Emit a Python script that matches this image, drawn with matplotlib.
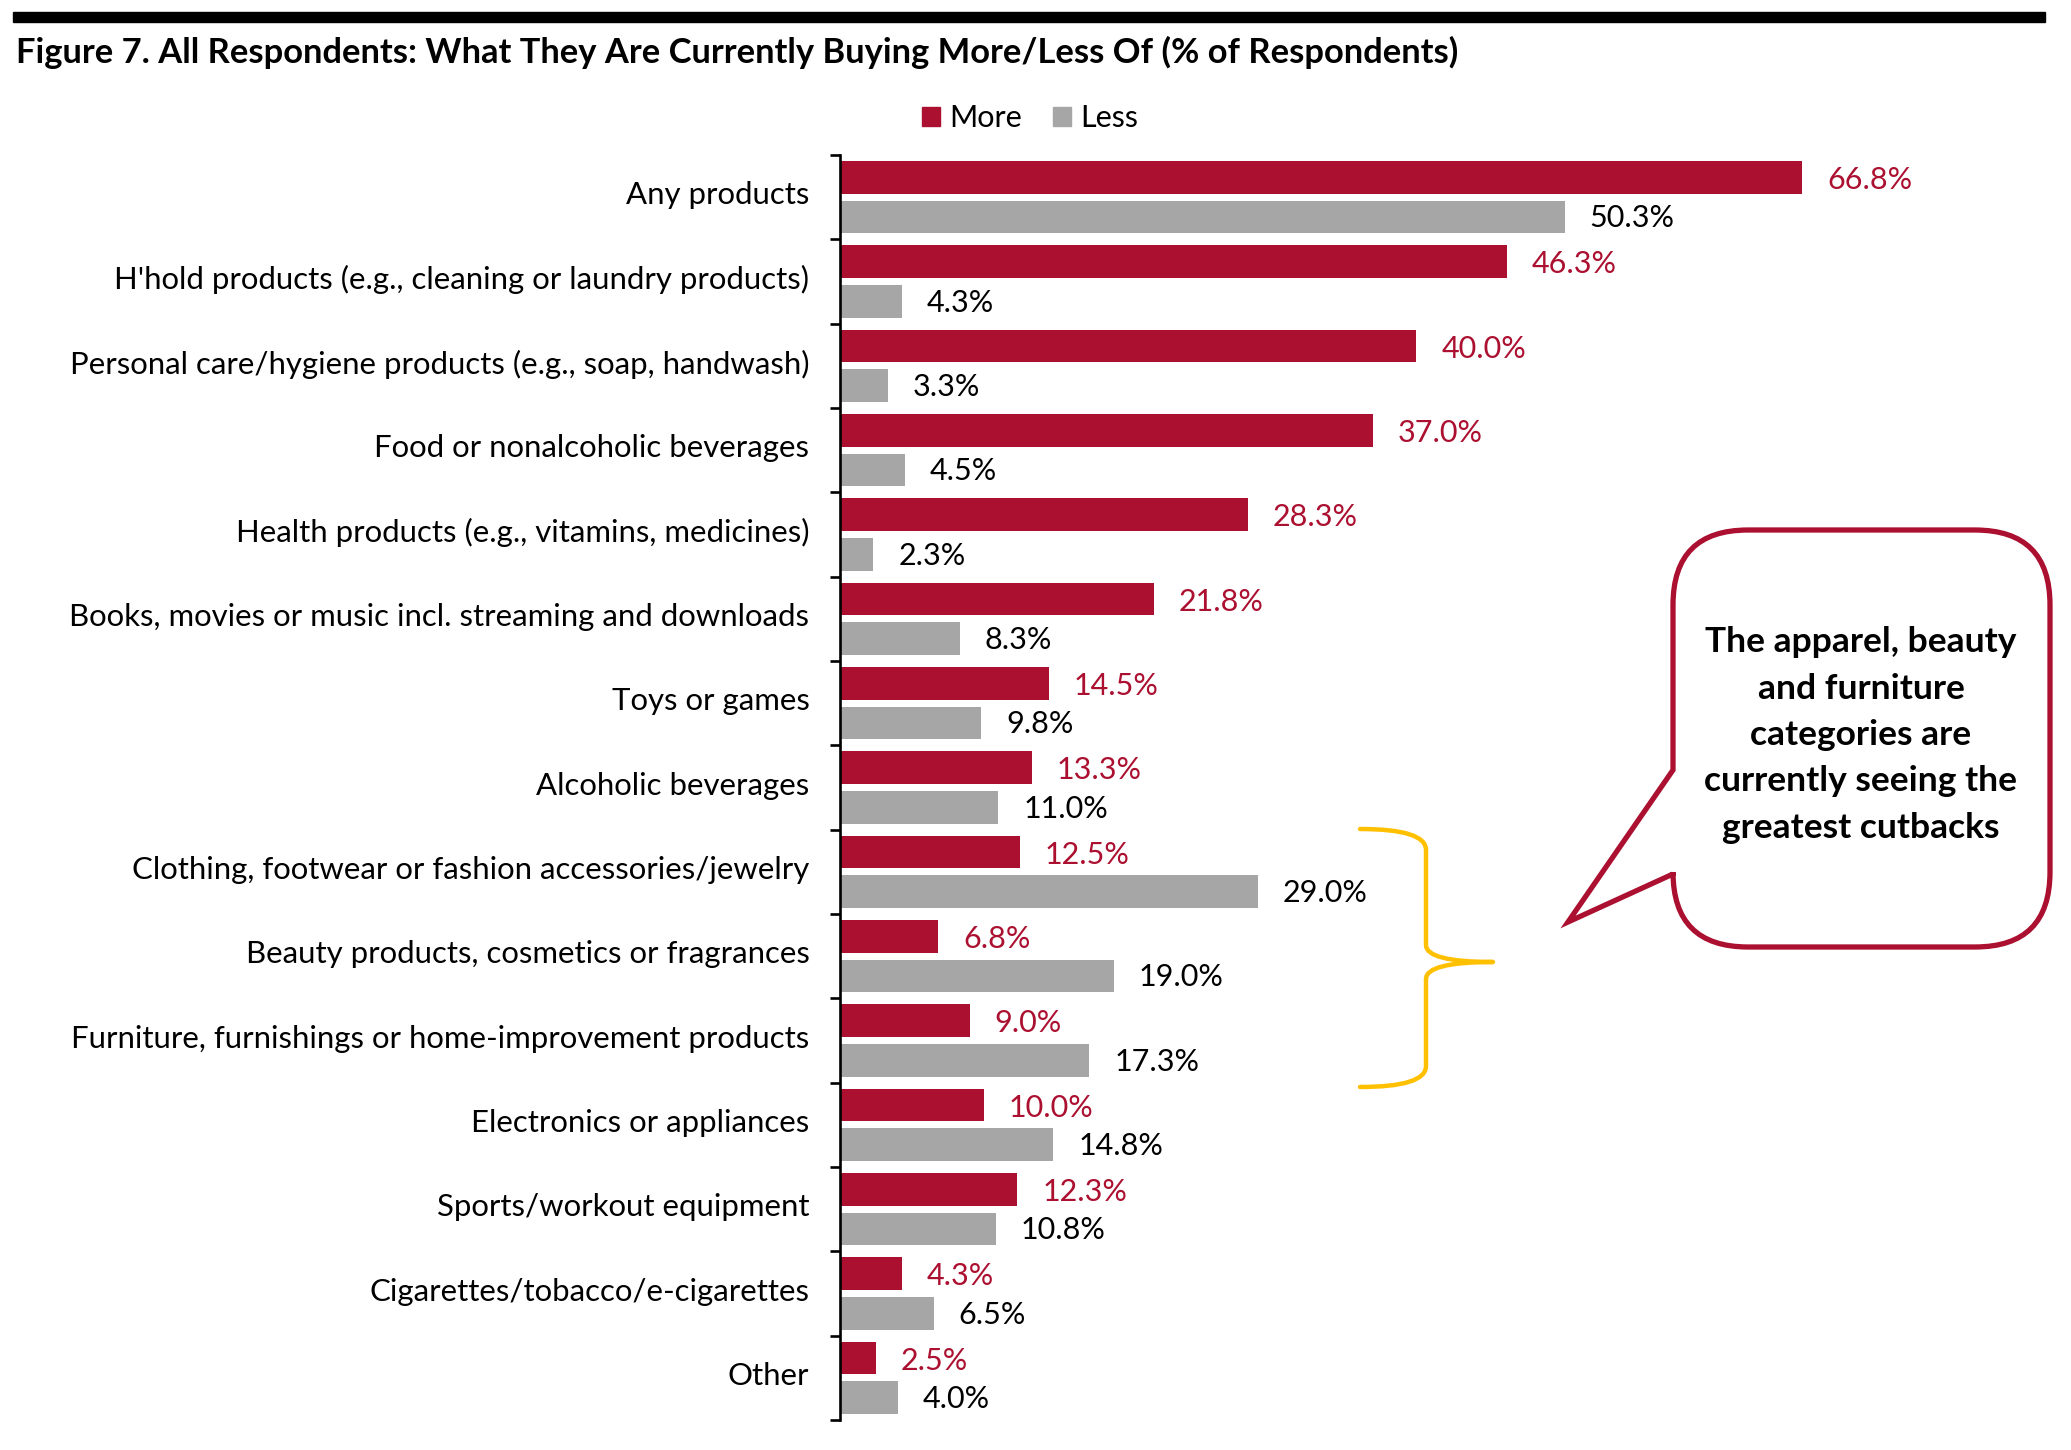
import matplotlib.pyplot as plt
from matplotlib.path import Path
from matplotlib.patches import PathPatch, Rectangle, Patch
import numpy as np

# data
categories = [
    'Any products',
    "H'hold products (e.g., cleaning or laundry products)",
    'Personal care/hygiene products (e.g., soap, handwash)',
    'Food or nonalcoholic beverages',
    'Health products (e.g., vitamins, medicines)',
    'Books, movies or music incl. streaming and downloads',
    'Toys or games',
    'Alcoholic beverages',
    'Clothing, footwear or fashion accessories/jewelry',
    'Beauty products, cosmetics or fragrances',
    'Furniture, furnishings or home-improvement products',
    'Electronics or appliances',
    'Sports/workout equipment',
    'Cigarettes/tobacco/e-cigarettes',
    'Other',
]
more = [66.8, 46.3, 40.0, 37.0, 28.3, 21.8, 14.5, 13.3, 12.5, 6.8, 9.0, 10.0, 12.3, 4.3, 2.5]
less = [50.3, 4.3, 3.3, 4.5, 2.3, 8.3, 9.8, 11.0, 29.0, 19.0, 17.3, 14.8, 10.8, 6.5, 4.0]

RED = '#AC1030'
GREY = '#A6A6A6'
FONT = 'Lato'

W, H = 2071, 1450
fig = plt.figure(figsize=(W / 100, H / 100), dpi=100)
plt.rcParams['font.family'] = FONT

# main bar axes (pixel placement)
ax = fig.add_axes([840 / W, 1 - 1420 / H, 1210 / W, 1265 / H])
y = np.arange(len(categories))
bh = 0.39
ax.barh(y - 0.235, more, height=bh, color=RED)
ax.barh(y + 0.235, less, height=bh, color=GREY)

for i in range(len(categories)):
    ax.annotate(f'{more[i]:.1f}%', (more[i], y[i] - 0.235), xytext=(18, -2),
                textcoords='offset points', va='center', ha='left',
                fontsize=22, color=RED)
    ax.annotate(f'{less[i]:.1f}%', (less[i], y[i] + 0.235), xytext=(18, -1),
                textcoords='offset points', va='center', ha='left',
                fontsize=22, color='black')

ax.set_xlim(0, 84)
ax.set_ylim(len(categories) - 0.5, -0.5)
# category labels sit slightly above the group centre in the reference
ax.set_yticks(y - 0.05)
ax.set_yticklabels(categories, fontsize=22.4)
ax.set_yticks(np.arange(-0.5, len(categories), 1), minor=True)
ax.tick_params(axis='y', which='major', length=0, pad=22)
ax.tick_params(axis='y', which='minor', length=7.5, width=1.9, direction='out')
ax.set_xticks([])
for s in ['top', 'right', 'bottom']:
    ax.spines[s].set_visible(False)
ax.spines['left'].set_linewidth(1.9)

# legend
handles = [Patch(color=RED, label='More'), Patch(color=GREY, label='Less')]
fig.legend(handles=handles, loc='center', bbox_to_anchor=(1030 / W, 1 - 118 / H),
           ncol=2, frameon=False, fontsize=22, handlelength=0.6, handleheight=0.6,
           handletextpad=0.3, columnspacing=1.0)

# overlay axes in pixel coordinates for the decorations
ov = fig.add_axes([0, 0, 1, 1], zorder=5)
ov.set_xlim(0, W)
ov.set_ylim(H, 0)
ov.axis('off')
ov.patch.set_alpha(0)

ov.add_patch(Rectangle((13, 12), 2032, 10, color='black'))
ov.text(16, 52, 'Figure 7. All Respondents: What They Are Currently Buying More/Less Of (% of Respondents)',
        fontsize=24.8, fontweight='bold', ha='left', va='center')

# yellow brace
bx0, bx1, tip = 1360, 1426, 1493
yt, ym, yb = 829, 962, 1087
verts = [(bx0, yt), (bx1, yt), (bx1, yt + 21),
         (bx1, ym - 17),
         (bx1, ym), (tip, ym),
         (bx1, ym), (bx1, ym + 17),
         (bx1, yb - 21),
         (bx1, yb), (bx0, yb)]
codes = [Path.MOVETO, Path.CURVE3, Path.CURVE3, Path.LINETO,
         Path.CURVE3, Path.CURVE3, Path.CURVE3, Path.CURVE3,
         Path.LINETO, Path.CURVE3, Path.CURVE3]
ov.add_patch(PathPatch(Path(verts, codes), fill=False, edgecolor='#FFC000', lw=3.2,
                       capstyle='round', joinstyle='round'))

# speech bubble callout
x0, x1, y0, y1, r = 1673, 2050, 530, 947, 75
tx, ty = 1568, 922
verts = [(x0 + r, y0), (x1 - r, y0),
         (x1, y0), (x1, y0 + r),
         (x1, y1 - r),
         (x1, y1), (x1 - r, y1),
         (x0 + r, y1),
         (x0, y1), (x0, y1 - r),
         (x0, 874), (tx, ty), (x0, 770),
         (x0, y0 + r),
         (x0, y0), (x0 + r, y0),
         (x0 + r, y0)]
codes = [Path.MOVETO, Path.LINETO,
         Path.CURVE3, Path.CURVE3,
         Path.LINETO,
         Path.CURVE3, Path.CURVE3,
         Path.LINETO,
         Path.CURVE3, Path.CURVE3,
         Path.LINETO, Path.LINETO, Path.LINETO,
         Path.LINETO,
         Path.CURVE3, Path.CURVE3,
         Path.CLOSEPOLY]
ov.add_patch(PathPatch(Path(verts, codes), facecolor='white', edgecolor=RED, lw=3.8,
                       joinstyle='miter'))
ov.text(1861, 735, 'The apparel, beauty\nand furniture\ncategories are\ncurrently seeing the\ngreatest cutbacks',
        fontsize=25.5, fontweight='bold', ha='center', va='center', linespacing=1.55)

fig.savefig('out.png', dpi=100)
